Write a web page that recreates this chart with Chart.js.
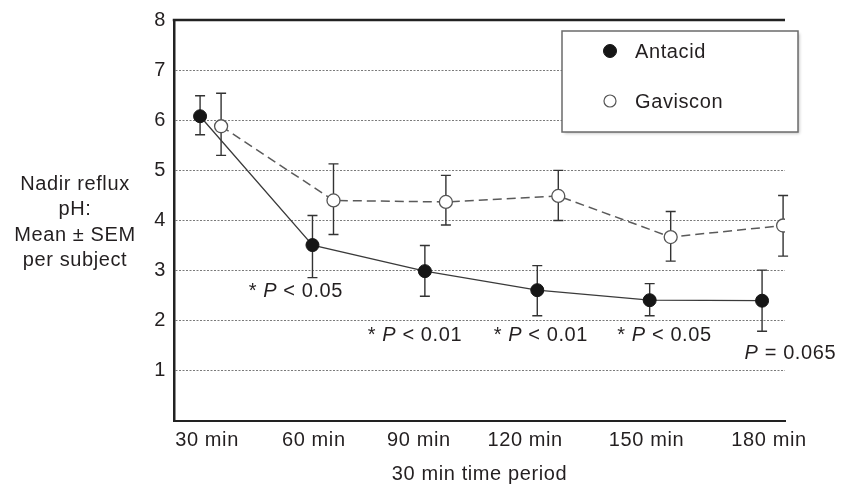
<!DOCTYPE html>
<html><head><meta charset="utf-8">
<script src="https://cdn.jsdelivr.net/npm/chart.js@4"></script>
<style>html,body{margin:0;padding:0;background:#fff;}#wrap{width:849px;height:486px;}</style>
</head><body><div id="wrap"><canvas id="c" width="849" height="486"></canvas></div>
<script>
// ---- data ----
const categories = ['30 min', '60 min', '90 min', '120 min', '150 min', '180 min'];
const antacidMean = [6.08, 3.51, 2.99, 2.61, 2.41, 2.40];
const antacidHigh = [6.49, 4.10, 3.50, 3.10, 2.74, 3.01];
const antacidLow  = [5.71, 2.86, 2.49, 2.10, 2.10, 1.79];
const gavisconMean = [5.88, 4.40, 4.37, 4.49, 3.67, 3.90];
const gavisconHigh = [6.54, 5.13, 4.90, 5.00, 4.18, 4.50];
const gavisconLow  = [5.30, 3.72, 3.91, 4.00, 3.19, 3.29];
const yTicks = [1, 2, 3, 4, 5, 6, 7, 8];
const pLabels = [null, '* |P| < 0.05', '* |P| < 0.01', '* |P| < 0.01', '* |P| < 0.05', '|P| = 0.065'];
const yTitle = ['Nadir reflux', 'pH:', 'Mean \u00b1 SEM', 'per subject'];
const xTitle = '30 min time period';
const seriesNames = ['Antacid', 'Gaviscon'];

// ---- styling / placement ----
const FONT = '"Liberation Sans", Arial, Helvetica, sans-serif';
const FS = 20;
const LS = '0.6px';
const TXT = '#231f20';
const DODGE = [-0.062, 0.125];
const labelNudge = [0, -0.05, -0.115, -0.17, -0.09, 0];
const pPlace = [null, {dx: -0.21, y: 2.58}, {dx: -0.15, y: 1.70}, {dx: -0.03, y: 1.70}, {dx: 0.07, y: 1.70}, {dx: 0.19, y: 1.34}];

const errs = [[antacidHigh, antacidLow], [gavisconHigh, gavisconLow]];

const extras = {
  id: 'extras',
  beforeDraw(chart) { chart.ctx.letterSpacing = LS; },
  beforeDatasetsDraw(chart) {
    const ctx = chart.ctx, xs = chart.scales.x, ys = chart.scales.y;
    ctx.save();
    ctx.strokeStyle = '#333'; ctx.lineWidth = 1.4; ctx.setLineDash([]);
    errs.forEach((pair, d) => {
      pair[0].forEach((hi, i) => {
        const x = xs.getPixelForValue(i + DODGE[d]);
        const yh = ys.getPixelForValue(hi), yl = ys.getPixelForValue(pair[1][i]);
        ctx.beginPath();
        ctx.moveTo(x, yh); ctx.lineTo(x, yl);
        ctx.moveTo(x - 5, yh); ctx.lineTo(x + 5, yh);
        ctx.moveTo(x - 5, yl); ctx.lineTo(x + 5, yl);
        ctx.stroke();
      });
    });
    ctx.restore();
  },
  afterDraw(chart) {
    const ctx = chart.ctx, xs = chart.scales.x, ys = chart.scales.y, a = chart.chartArea;
    ctx.save();
    ctx.letterSpacing = LS;
    // top frame line
    ctx.strokeStyle = '#222'; ctx.lineWidth = 2.5;
    ctx.beginPath(); ctx.moveTo(a.left - 1.25, a.top); ctx.lineTo(a.right, a.top); ctx.stroke();
    // y title (horizontal)
    ctx.fillStyle = TXT; ctx.font = FS + 'px ' + FONT; ctx.textAlign = 'center'; ctx.textBaseline = 'middle';
    const mid = (a.top + a.bottom) / 2 + 2;
    yTitle.forEach((t, k) => ctx.fillText(t, 75, mid + (k - 1.5) * 25.3));
    // P annotations
    ctx.textAlign = 'left';
    pLabels.forEach((lab, i) => {
      if (!lab) return;
      const parts = lab.split('|');
      const fonts = parts.map((p, k) => (k === 1 ? 'italic ' : '') + FS + 'px ' + FONT);
      let w = 0;
      parts.forEach((p, k) => { ctx.font = fonts[k]; w += ctx.measureText(p).width; });
      let x = xs.getPixelForValue(i + pPlace[i].dx) - w / 2;
      const y = ys.getPixelForValue(pPlace[i].y);
      parts.forEach((p, k) => { ctx.font = fonts[k]; ctx.fillText(p, x, y); x += ctx.measureText(p).width; });
    });
    // legend box
    ctx.save();
    ctx.shadowColor = 'rgba(0,0,0,0.25)'; ctx.shadowBlur = 3; ctx.shadowOffsetX = 1.5; ctx.shadowOffsetY = 1.5;
    ctx.fillStyle = '#fff'; ctx.fillRect(562, 31, 236, 101);
    ctx.restore();
    ctx.strokeStyle = '#6b6b6b'; ctx.lineWidth = 1.5; ctx.strokeRect(562, 31, 236, 101);
    const ds = chart.data.datasets;
    [51, 101].forEach((ly, k) => {
      ctx.beginPath(); ctx.arc(610, ly, k === 0 ? 6.5 : 6, 0, Math.PI * 2);
      ctx.fillStyle = ds[k].pointBackgroundColor; ctx.fill();
      ctx.strokeStyle = ds[k].pointBorderColor; ctx.lineWidth = k === 0 ? 1 : 1.2; ctx.stroke();
      ctx.fillStyle = TXT; ctx.font = FS + 'px ' + FONT; ctx.textBaseline = 'middle';
      ctx.fillText(seriesNames[k], 635, ly + 1);
    });
    ctx.restore();
  }
};

new Chart(document.getElementById('c'), {
  type: 'line',
  data: {
    datasets: [
      {
        label: seriesNames[0],
        data: antacidMean.map((v, i) => ({x: i + DODGE[0], y: v})),
        borderColor: '#3a3a3a', borderWidth: 1.3,
        pointRadius: 6.5, pointBackgroundColor: '#161616', pointBorderColor: '#161616', pointBorderWidth: 1,
        tension: 0
      },
      {
        label: seriesNames[1],
        data: gavisconMean.map((v, i) => ({x: i + DODGE[1], y: v})),
        borderColor: '#5a5a5a', borderWidth: 1.5, borderDash: [9, 5],
        pointRadius: 6.5, pointBackgroundColor: '#ffffff', pointBorderColor: '#555555', pointBorderWidth: 1.3,
        tension: 0
      }
    ]
  },
  options: {
    responsive: false, animation: false, devicePixelRatio: 1,
    layout: {padding: {top: 15, right: 64, bottom: 0, left: 0}},
    plugins: {legend: {display: false}, tooltip: {enabled: false}},
    scales: {
      x: {
        type: 'linear', min: -0.294, max: 5.142,
        afterBuildTicks: s => { s.ticks = categories.map((c, i) => ({value: i + labelNudge[i]})); },
        afterFit: s => { s.height = 65; },
        ticks: {callback: (v, idx) => categories[idx], font: {family: FONT, size: FS}, color: TXT, padding: 7, autoSkip: false, maxRotation: 0},
        grid: {display: false, drawTicks: false},
        border: {display: true, color: '#222', width: 2},
        title: {display: true, text: xTitle, font: {family: FONT, size: FS}, color: TXT, padding: {top: 0, bottom: 0}}
      },
      y: {
        min: 0, max: 8,
        afterBuildTicks: s => { s.ticks = yTicks.map(v => ({value: v})); },
        afterFit: s => { s.width = 174; },
        ticks: {font: {family: FONT, size: FS}, color: TXT, padding: 8},
        grid: {color: c => (c.tick && c.tick.value === 8) ? 'rgba(0,0,0,0)' : '#7a7a7a', lineWidth: 1, drawTicks: false},
        border: {display: true, color: '#222', width: 2.5, dash: [2, 1.5]}
      }
    }
  },
  plugins: [extras]
});
</script></body></html>
